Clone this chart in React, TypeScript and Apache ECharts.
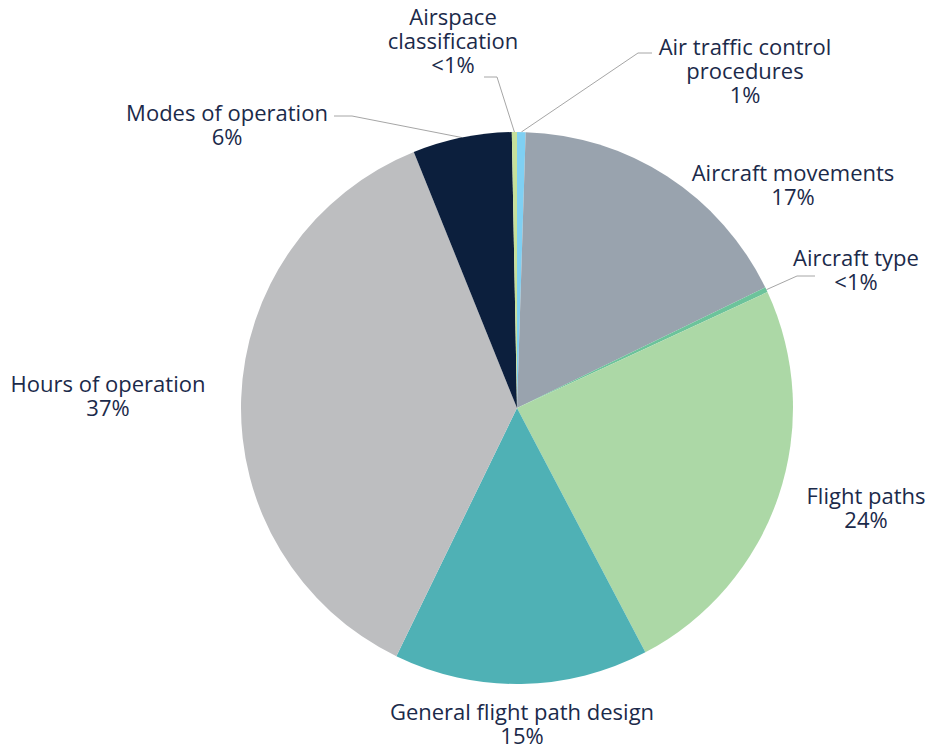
import React, { useEffect, useRef } from "react";
import * as echarts from "echarts";

const categories = [
  "Air traffic control\nprocedures",
  "Aircraft movements",
  "Aircraft type",
  "Flight paths",
  "General flight path design",
  "Hours of operation",
  "Modes of operation",
  "Airspace\nclassification",
];
const values = [0.5, 17.3, 0.3, 24.2, 14.9, 36.7, 5.8, 0.3];
const pctLabels = ["1%", "17%", "<1%", "24%", "15%", "37%", "6%", "<1%"];
const colors = ["#7fd0f3", "#99a3ae", "#6cc39b", "#acd8a6", "#4fb1b5", "#bdbec0", "#0c1f3d", "#c6e09b"];

// label placement (layout, not data)
const CENTER = [517, 408];
const RADIUS = 276;
const labelPos: number[][] = [
  [745, 70],
  [793, 184],
  [856, 269],
  [866, 507],
  [522, 723],
  [108, 395],
  [227, 124],
  [453, 40],
];
const leaderBends: (number[][] | null)[] = [
  [[638, 53], [652, 53]],
  null,
  [[797, 276], [815, 276]],
  null,
  null,
  null,
  [[352, 116], [334, 116]],
  [[497, 77], [484, 77]],
];

export default function App() {
  const ref = useRef<HTMLDivElement>(null);
  useEffect(() => {
    if (!ref.current) return;
    const chart = echarts.init(ref.current, undefined, { renderer: "svg" });
    const total = values.reduce((a, b) => a + b, 0);
    const mids: number[] = [];
    let acc = 0;
    values.forEach((v) => {
      mids.push(((acc + v / 2) / total) * 2 * Math.PI);
      acc += v;
    });
    chart.setOption({
      animation: false,
      series: [
        {
          type: "pie",
          center: CENTER,
          radius: RADIUS,
          startAngle: 90,
          clockwise: true,
          avoidLabelOverlap: false,
          minAngle: 0,
          data: categories.map((c, i) => ({
            name: c,
            value: values[i],
            itemStyle: { color: colors[i] },
            labelLine: { show: !!leaderBends[i] },
          })),
          label: {
            show: true,
            position: "outside",
            formatter: (p: any) => `${p.name}\n${pctLabels[p.dataIndex]}`,
            color: "#1b2a4a",
            fontFamily: "Open Sans",
            fontSize: 22,
            lineHeight: 24,
            align: "center",
          },
          labelLine: {
            show: true,
            lineStyle: { color: "#a6a6a6", width: 1 },
          },
          labelLayout: (params: any) => {
            const i = params.dataIndex;
            const res: any = {
              x: labelPos[i][0],
              y: labelPos[i][1],
              align: "center",
              verticalAlign: "middle",
            };
            const b = leaderBends[i];
            if (b) {
              const a = mids[i];
              const sp = [CENTER[0] + RADIUS * Math.sin(a), CENTER[1] - RADIUS * Math.cos(a)];
              res.labelLinePoints = [sp, b[0], b[1]];
            }
            return res;
          },
        },
      ],
    });
    return () => chart.dispose();
  }, []);
  return (
    <div
      ref={ref}
      style={{ position: "fixed", left: 0, top: 0, width: 933, height: 749, background: "#fff" }}
    />
  );
}
